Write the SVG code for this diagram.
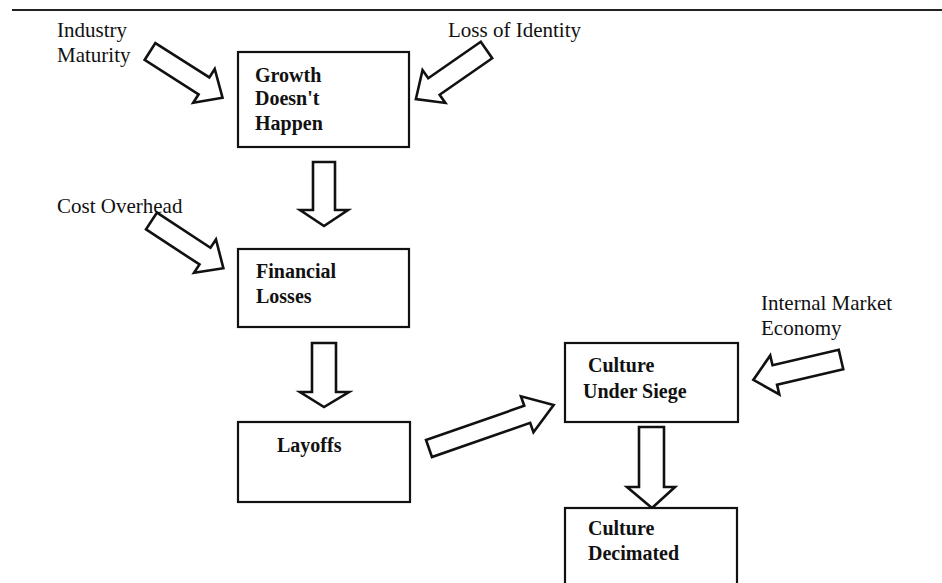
<svg xmlns="http://www.w3.org/2000/svg" width="942" height="583" viewBox="0 0 942 583">
<style>
.box{fill:#fff;stroke:#111;stroke-width:2.2}
.arr{fill:#fff;stroke:#111;stroke-width:2.6;stroke-linejoin:miter}
.lbl{font-family:"Liberation Serif",serif;font-size:21px;fill:#111}
.nt{font-family:"Liberation Serif",serif;font-size:20px;font-weight:bold;fill:#111}
</style>
<rect width="942" height="583" fill="#fff"/>
<line x1="12" y1="10" x2="942" y2="10" stroke="#222" stroke-width="2.2"/>
<g id="labels">
<text class="lbl" x="57" y="37">Industry</text>
<text class="lbl" x="57" y="62">Maturity</text>
<text class="lbl" x="448" y="37">Loss of Identity</text>
<text class="lbl" x="57" y="213">Cost Overhead</text>
<text class="lbl" x="761" y="310">Internal Market</text>
<text class="lbl" x="761" y="335">Economy</text>
</g>
<g id="connectors">
<polygon class="arr" transform="translate(150,51.5) rotate(32.5)" points="0,-10 64,-10 64,-20 86,0 64,20 64,10 0,10"/>
<polygon class="arr" transform="translate(486.5,50) rotate(145.2)" points="0,-10 64,-10 64,-20 86,0 64,20 64,10 0,10"/>
<polygon class="arr" transform="translate(151.5,221) rotate(33.3)" points="0,-10 64,-10 64,-20 86,0 64,20 64,10 0,10"/>
<polygon class="arr" transform="translate(429,448.5) rotate(-19.2)" points="0,-9 104,-9 104,-19 132,0 104,19 104,9 0,9"/>
<polygon class="arr" transform="translate(841,359.5) rotate(166.9)" points="0,-10 68,-10 68,-20 90,0 68,20 68,10 0,10"/>
<polygon class="arr" points="313,162 335,162 335,210 348,210 324,226 300,210 313,210"/>
<polygon class="arr" points="312,343 336,343 336,392 349,392 324,407 300,392 312,392"/>
<polygon class="arr" points="639,427 664,427 664,487 675,487 652,508 627,487 639,487"/>
</g>
<g id="growth">
<rect class="box" x="238" y="52" width="171" height="95"/>
<text class="nt" x="255" y="82">Growth</text>
<text class="nt" x="255" y="105">Doesn't</text>
<text class="nt" x="255" y="130">Happen</text>
</g>
<g id="financial">
<rect class="box" x="238" y="249" width="171" height="78"/>
<text class="nt" x="256" y="278">Financial</text>
<text class="nt" x="256" y="303">Losses</text>
</g>
<g id="layoffs">
<rect class="box" x="238" y="422" width="172" height="80"/>
<text class="nt" x="277" y="452">Layoffs</text>
</g>
<g id="siege">
<rect class="box" x="565" y="343" width="173" height="79"/>
<text class="nt" x="588" y="372">Culture</text>
<text class="nt" x="583" y="398">Under Siege</text>
</g>
<g id="decimated">
<rect class="box" x="565" y="508" width="172" height="90"/>
<text class="nt" x="588" y="535">Culture</text>
<text class="nt" x="588" y="560">Decimated</text>
</g>
</svg>
